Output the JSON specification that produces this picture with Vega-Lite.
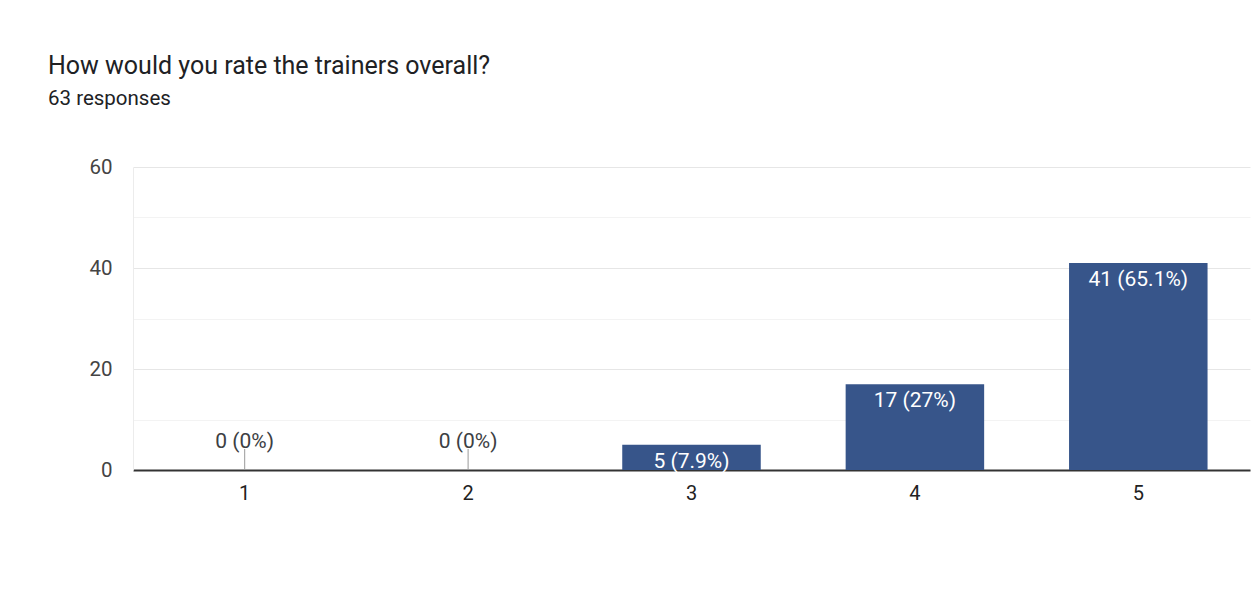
{
  "$schema": "https://vega.github.io/schema/vega-lite/v6.json",
  "width": 1117,
  "height": 303,
  "autosize": {"type": "none"},
  "padding": {"left": 133, "top": 167, "right": 3, "bottom": 127},
  "background": "white",
  "title": {
    "text": "How would you rate the trainers overall?",
    "subtitle": "63 responses",
    "anchor": "start",
    "frame": "group",
    "dx": -85,
    "offset": 48,
    "font": "Roboto",
    "fontSize": 25,
    "fontWeight": "normal",
    "color": "#202124",
    "subtitleFont": "Roboto",
    "subtitleFontSize": 20.5,
    "subtitleColor": "#202124",
    "subtitlePadding": 10
  },
  "config": {"view": {"stroke": null}},
  "data": {
    "values": [
      {"rating": "1", "count": 0, "label": "0 (0%)"},
      {"rating": "2", "count": 0, "label": "0 (0%)"},
      {"rating": "3", "count": 5, "label": "5 (7.9%)"},
      {"rating": "4", "count": 17, "label": "17 (27%)"},
      {"rating": "5", "count": 41, "label": "41 (65.1%)"}
    ]
  },
  "encoding": {
    "x": {
      "field": "rating",
      "type": "ordinal",
      "scale": {"paddingInner": 0.38, "paddingOuter": 0.19},
      "axis": {
        "title": null,
        "ticks": false,
        "labelAngle": 0,
        "labelFont": "Roboto",
        "labelFontSize": 20,
        "labelColor": "#222222",
        "labelPadding": 13,
        "domainColor": "#333333",
        "domainWidth": 2,
        "grid": false
      }
    },
    "y": {
      "field": "count",
      "type": "quantitative",
      "scale": {"domain": [0, 60], "nice": false},
      "axis": {
        "title": null,
        "values": [0, 10, 20, 30, 40, 50, 60],
        "labelExpr": "datum.value % 20 === 0 ? datum.label : ''",
        "ticks": false,
        "domain": true,
        "domainColor": "#ececec",
        "gridColor": {"condition": {"test": "datum.value % 20 === 0", "value": "#e6e6e6"}, "value": "#f3f3f3"},
        "labelFont": "Roboto",
        "labelFontSize": 20.5,
        "labelColor": "#444444",
        "labelPadding": 21
      }
    }
  },
  "layer": [
    {
      "transform": [{"filter": "datum.count > 0"}],
      "mark": {"type": "bar", "color": "#37558a"}
    },
    {
      "transform": [{"filter": "datum.count > 0"}],
      "mark": {"type": "text", "baseline": "alphabetic", "dy": 23, "color": "white", "font": "Roboto", "fontSize": 21},
      "encoding": {"text": {"field": "label"}}
    },
    {
      "transform": [{"filter": "datum.count == 0"}],
      "mark": {"type": "rule", "color": "#999999", "y2Offset": -21},
      "encoding": {"y2": {"field": "count"}}
    },
    {
      "transform": [{"filter": "datum.count == 0"}],
      "mark": {"type": "text", "baseline": "alphabetic", "dy": -22, "color": "#3c4043", "font": "Roboto", "fontSize": 21},
      "encoding": {"text": {"field": "label"}}
    }
  ]
}
